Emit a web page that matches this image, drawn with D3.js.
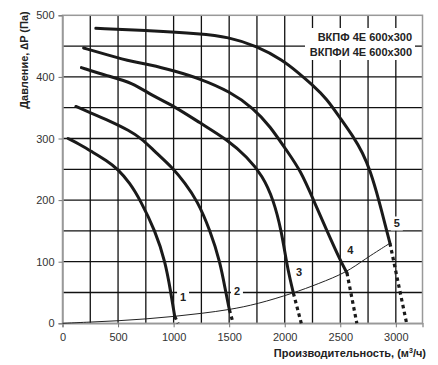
<!DOCTYPE html>
<html>
<head>
<meta charset="utf-8">
<script src="https://cdn.jsdelivr.net/npm/d3@7"></script>
<style>
  body { margin: 0; background: #fff; }
  svg { display: block; font-family: "Liberation Sans", Arial, sans-serif; }
</style>
</head>
<body>
<svg id="chart" width="438" height="365"></svg>
<script>
// fan curves, [flow m3/h, pressure Pa], solid part
const curve1 = [[50,300],[150,291],[250,280],[400,264],[500,250],[605,228],[700,200],[835,150],[925,100],[975,50],[1010,11]];
const curve2 = [[120,352],[250,342],[430,328],[600,313],[710,300],[819,281],[1000,251],[1100,228],[1211,200],[1331,150],[1418,100],[1470,50],[1502,22]];
const curve3 = [[170,415],[400,402],[640,390],[790,371],[1000,353],[1240,325],[1492,297],[1660,270],[1800,240],[1900,200],[1970,150],[2015,100],[2050,70],[2078,49]];
const curve4 = [[190,447],[400,436],[640,424],[790,420],[1000,410],[1240,397],[1509,376],[1720,349],[1868,320],[2015,281],[2143,248],[2259,200],[2380,150],[2505,100],[2560,82]];
const curve5 = [[300,479],[790,475],[1240,470],[1490,465],[1750,450],[1985,427],[2120,407],[2250,387],[2376,365],[2500,333],[2614,304],[2704,276],[2769,248],[2848,200],[2918,150],[2947,130]];
const curves = [curve1, curve2, curve3, curve4, curve5];
// dotted tails down to zero pressure
const tailEnds = [[1040,0],[1536,0],[2149,0],[2649,0],[3097,0]];
// network curve
const system = [[0,0],[250,2],[500,4],[750,7],[1000,11],[1250,16],[1500,22],[1750,31],[2078,49],[2300,64],[2560,83],[2710,103],[2947,130]];
// curve numbers
const curveLabels = [["1",1085,43],["2",1570,53],["3",2128,84],["4",2590,119],["5",3009,162]];
const xTicks = [0,500,1000,1500,2000,2500,3000];
const yTicks = [0,100,200,300,400,500];
const xGrid = d3.range(250, 3001, 250);
const yGrid = d3.range(50, 451, 50);
const modelLines = ["ВКПФ 4E 600x300", "ВКПФИ 4E 600x300"];

const svg = d3.select("#chart");
const x = d3.scaleLinear().domain([0, 3240]).range([62.5, 422.5]);
const y = d3.scaleLinear().domain([0, 500]).range([323.3, 15.3]);

// grid
svg.append("g").selectAll("line").data(xGrid).join("line")
  .attr("x1", d => x(d)).attr("x2", d => x(d))
  .attr("y1", y(0)).attr("y2", y(500))
  .attr("stroke", "#111").attr("stroke-width", 1.3);
svg.append("g").selectAll("line").data(yGrid).join("line")
  .attr("x1", x(0)).attr("x2", x(3240))
  .attr("y1", d => y(d)).attr("y2", d => y(d))
  .attr("stroke", "#111").attr("stroke-width", 1.3);

// frame
svg.append("rect")
  .attr("x", x(0)).attr("y", y(500))
  .attr("width", x(3240) - x(0)).attr("height", y(0) - y(500))
  .attr("fill", "none").attr("stroke", "#999").attr("stroke-width", 1.5);

// axes
const xAxis = svg.append("g").attr("transform", `translate(0,${y(0)})`)
  .call(d3.axisBottom(x).tickValues(xTicks).tickSize(4).tickPadding(6).tickFormat(d3.format("d")));
const yAxis = svg.append("g").attr("transform", `translate(${x(0)},0)`)
  .call(d3.axisLeft(y).tickValues(yTicks).tickSize(4).tickPadding(4).tickFormat(d3.format("d")));
[xAxis, yAxis].forEach(a => {
  a.select(".domain").attr("stroke", "#999").attr("stroke-width", 1.5);
  a.selectAll(".tick line").attr("stroke", "#777");
  a.selectAll("text").attr("fill", "#333").style("font-size", "11px")
    .style("font-family", "'Liberation Sans', Arial, sans-serif");
});

// model box
svg.append("rect").attr("x", 305).attr("y", 28).attr("width", 110).attr("height", 32).attr("fill", "#fff");
svg.append("g").selectAll("text").data(modelLines).join("text")
  .attr("x", 412).attr("y", (d, i) => 41 + i * 15)
  .attr("text-anchor", "end").attr("fill", "#222")
  .style("font-size", "11px").style("font-weight", "bold")
  .text(d => d);

// system curve
const smooth = d3.line().x(d => x(d[0])).y(d => y(d[1])).curve(d3.curveBasis);
svg.append("path").attr("d", smooth(system))
  .attr("fill", "none").attr("stroke", "#222").attr("stroke-width", 1);

// fan curves
svg.append("g").selectAll("path").data(curves).join("path")
  .attr("d", d => smooth(d))
  .attr("fill", "none").attr("stroke", "#1a1a1a").attr("stroke-width", 3)
  .attr("stroke-linecap", "round");
const straight = d3.line().x(p => x(p[0])).y(p => y(p[1]));
svg.append("g").selectAll("path").data(curves).join("path")
  .attr("d", (d, i) => straight([d[d.length - 1], tailEnds[i]]))
  .attr("fill", "none").attr("stroke", "#1a1a1a").attr("stroke-width", 3.2)
  .attr("stroke-dasharray", "3.5,3.5");

// curve numbers
const lab = svg.append("g").selectAll("g").data(curveLabels).join("g")
  .attr("transform", d => `translate(${x(d[1])},${y(d[2])})`);
lab.append("rect").attr("x", -6).attr("y", -7).attr("width", 12).attr("height", 14).attr("fill", "#fff");
lab.append("text").attr("text-anchor", "middle").attr("dy", "0.36em")
  .attr("fill", "#222").style("font-size", "11px").style("font-weight", "bold")
  .text(d => d[0]);

// titles
svg.append("text").attr("x", 426).attr("y", 357).attr("text-anchor", "end")
  .attr("fill", "#222").style("font-size", "11px").style("font-weight", "bold")
  .html("Производительность, (м<tspan dy='-4' style='font-size:7px'>3</tspan><tspan dy='4'>/ч)</tspan>");
svg.append("text").attr("transform", "translate(28,60) rotate(-90)").attr("text-anchor", "middle")
  .attr("fill", "#222").style("font-size", "11px").style("font-weight", "bold")
  .text("Давление, ∆P (Па)");
</script>
</body>
</html>
